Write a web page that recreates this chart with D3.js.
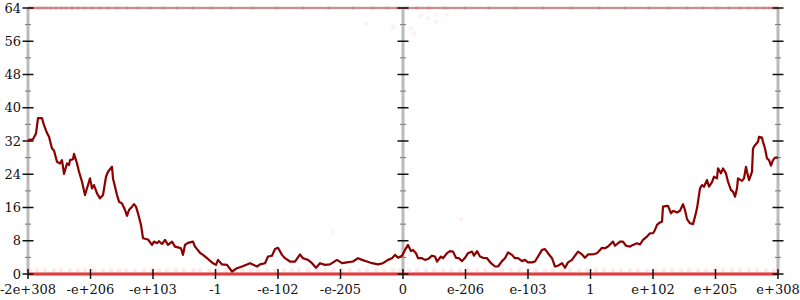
<!DOCTYPE html>
<html>
<head>
<meta charset="utf-8">
<script src="https://cdn.jsdelivr.net/npm/d3@7"></script>
<style>
  body { margin: 0; background: #fff; }
  text { font-family: "DejaVu Serif", serif; font-size: 13px; fill: #111; }
</style>
</head>
<body>
<div id="chart"></div>
<script>
// x values are positions along the ordered-float axis, 62.5 units per labelled tick
var tickLabels = ["-2e+308", "-e+206", "-e+103", "-1", "-e-102", "-e-205", "0",
                  "e-206", "e-103", "1", "e+102", "e+205", "e+308"];
var yTicks = [0, 8, 16, 24, 32, 40, 48, 56, 64];
var yMinor = [4, 12, 20, 28, 36, 44, 52, 60];

var lineX = [-375,-370,-367,-365,-361,-359,-356,-354,-351,-349,-346,-343,-341,-339,-336,-334,-333,-330,-329,-326,
  -324,-321,-318,-315,-313,-311,-309,-306,-303,-300,-297,-295,-291,-290,-286,-284,-281,-278,-276,-274,
  -271,-269,-267,-265,-262,-260,-255,-251,-249,-246,-244,-241,-238,-235,-231,-228,-225,-222,-220,-218,
  -215,-210,-208,-203,-200,-196,-192,-190,-187,-185,-181,-176,-171,-166,-161,-156,-153,-146,-143,-138,
  -135,-131,-128,-125,-121,-118,-113,-108,-103,-100,-95,-91,-87,-83,-78,-73,-66,-61,-56,-50,
  -45,-41,-36,-31,-25,-20,-15,-11,-8,-5,-1,2,5,8,10,13,15,19,22,25,
  29,32,34,38,40,44,47,50,53,56,59,62,65,69,71,74,77,80,84,88,
  92,95,99,102,105,109,112,115,119,122,125,129,132,135,139,142,145,149,152,155,
  159,162,165,169,172,175,179,182,185,189,194,199,202,205,210,212,217,220,223,227,
  230,234,237,240,244,247,250,252,254,257,259,260,264,265,268,270,274,277,280,282,
  284,287,290,292,294,297,299,301,304,306,309,311,314,315,318,320,323,325,328,330,
  332,334,335,339,341,343,344,346,349,350,352,355,356,359,360,362,364,366,368,370,
  372,375];
var lineY = [32.2,32.4,33.8,37.5,37.5,35.8,33.9,33.0,30.2,29.7,27.0,26.6,27.4,24.1,26.6,26.2,27.4,27.6,28.9,26.6,
  24.6,22.2,19.0,21.4,23.0,20.6,21.4,19.4,18.2,19.0,23.4,24.6,25.8,23.0,19.0,17.4,17.0,15.4,14.0,15.4,
  16.2,16.8,16.2,14.6,11.8,8.6,8.3,7.0,7.8,7.4,7.9,7.2,8.2,7.0,7.8,6.6,6.4,6.2,4.6,7.0,
  7.5,7.8,6.6,5.1,4.6,3.8,3.0,2.6,2.2,3.4,2.3,2.2,0.6,1.4,1.8,2.3,2.6,1.8,2.3,2.6,
  4.2,4.4,6.0,6.3,4.6,3.8,3.0,3.0,4.7,3.8,3.4,2.6,1.5,2.6,2.2,2.3,3.4,2.6,2.8,3.0,
  3.8,3.4,3.0,2.6,2.3,2.6,3.4,3.8,4.6,3.9,4.4,5.8,7.0,5.5,5.8,5.0,3.8,3.8,3.4,3.6,
  4.4,4.2,3.0,4.2,3.8,5.0,5.5,5.4,3.9,3.8,3.1,3.9,5.0,5.4,4.4,5.5,4.2,3.9,3.8,2.6,
  1.8,1.8,3.1,3.8,5.2,4.6,3.8,3.8,3.1,3.4,2.8,2.8,3.0,4.2,5.8,6.0,5.0,3.8,1.8,2.0,
  2.6,1.5,2.8,3.4,4.4,5.4,4.7,3.9,4.7,4.7,5.0,6.3,6.2,6.6,7.8,6.8,7.8,7.8,6.8,6.6,
  7.0,7.4,7.1,8.2,9.0,9.8,9.8,10.6,11.8,12.4,12.6,16.2,16.4,16.4,14.6,15.2,14.8,15.2,16.8,15.4,
  13.2,12.2,12.0,13.8,15.8,20.6,21.4,21.0,22.6,21.0,22.1,23.4,23.0,25.4,24.2,25.4,24.2,22.2,20.2,19.8,
  18.6,20.6,23.0,22.4,23.0,25.8,24.6,22.6,24.6,30.2,31.0,31.8,33.0,32.8,31.8,30.2,27.8,27.4,26.1,27.4,
  28.0,28.0];

// samples that landed on the extremes
var topX = [-374,-371,-368,-364,-360,-356,-352,-347,-342,-337,-331,-325,-318,-311,-303,-295,-286,-276,-265,-253,
  -240,-226,-210,-192,-172,-150,-126,-100,-74,-50,-30,-16,-6,4,14,26,42,62,86,112,
  140,168,196,222,246,266,284,300,314,326,337,346,354,361,366,370,373,375];
var lowX = [-373,-366,-358,-349,-342,-333,-325,-318,-309,-300,-292,-284,-277,-268,-259,-251,-244,-236,-227,-219,
  -210,-203,-194,-186,-177,-170,-161,-152,-145,-136,-128,-119,-111,-104,-95,-86,-78,-70,-61,-53,
  -44,-36,-27,-19,-10,-3,6,14,23,31,40,48,57,65,74,82,91,99,108,116,
  125,133,142,150,159,167,176,184,193,201,210,218,227,235,244,252,261,269,278,286,
  295,303,312,320,329,337,346,354,363,371];
var lowY = 0.9;
var zeroRun = [-375, 375];
var strayX = [-36, -10, 8, 11, 18, 25, 33, 33, 44, -70, 58];
var strayY = [60.2, 59.5, 59.1, 57.9, 62.1, 61.5, 62.3, 60.7, 62.3, 10.1, 13.2];

var margin = {top: 8, right: 22, bottom: 26, left: 28},
    width = 800 - margin.left - margin.right,
    height = 300 - margin.top - margin.bottom;

var svg = d3.select("#chart")
  .append("svg")
    .attr("width", 800)
    .attr("height", 300)
  .append("g")
    .attr("transform", "translate(" + margin.left + "," + margin.top + ")");

var x = d3.scaleLinear().domain([-375, 375]).range([0, width]);
var y = d3.scaleLinear().domain([0, 64]).range([height, 0]);

var tickPos = tickLabels.map(function(d, i) { return (i - 6) * 62.5; });

// frame and axis lines
svg.append("line")
    .attr("x1", 0).attr("x2", width).attr("y1", 0).attr("y2", 0)
    .attr("stroke", "#bbb").attr("stroke-width", 2.5);
svg.append("line")
    .attr("x1", 0).attr("x2", width).attr("y1", height).attr("y2", height)
    .attr("stroke", "#bbb").attr("stroke-width", 2.5);
[-375, 0, 375].forEach(function(p) {
  svg.append("line")
      .attr("x1", x(p)).attr("x2", x(p)).attr("y1", 0).attr("y2", height)
      .attr("stroke", "#bbb").attr("stroke-width", 3);
});

// scatter samples
svg.append("line")
    .attr("x1", x(zeroRun[0])).attr("x2", x(zeroRun[1]))
    .attr("y1", y(64)).attr("y2", y(64))
    .attr("stroke", "#e64646").attr("stroke-width", 2).attr("stroke-opacity", 0.35);

svg.append("g").selectAll("circle.top")
  .data(topX).enter().append("circle")
    .attr("cx", function(d) { return x(d); })
    .attr("cy", y(64))
    .attr("r", 2)
    .attr("fill", "#e8282a")
    .attr("fill-opacity", 0.15);

svg.append("g").selectAll("circle.low")
  .data(lowX).enter().append("circle")
    .attr("cx", function(d) { return x(d); })
    .attr("cy", y(lowY))
    .attr("r", 2.2)
    .attr("fill", "#f04a4a")
    .attr("fill-opacity", 0.12);

svg.append("g").selectAll("circle.stray")
  .data(strayX).enter().append("circle")
    .attr("cx", function(d) { return x(d); })
    .attr("cy", function(d, i) { return y(strayY[i]); })
    .attr("r", 2.2)
    .attr("fill", "#f04a4a")
    .attr("fill-opacity", 0.08);

svg.append("line")
    .attr("x1", x(zeroRun[0])).attr("x2", x(zeroRun[1]))
    .attr("y1", y(0)).attr("y2", y(0))
    .attr("stroke", "#e43a3c").attr("stroke-width", 3);

// y ticks on the three vertical axes
[-375, 0, 375].forEach(function(p) {
  var g = svg.append("g");
  g.selectAll("line.minor").data(yMinor).enter().append("line")
      .attr("x1", x(p) - 3).attr("x2", x(p) + 3)
      .attr("y1", function(d) { return y(d); }).attr("y2", function(d) { return y(d); })
      .attr("stroke", "#777").attr("stroke-width", 1);
  g.selectAll("line.major").data(yTicks).enter().append("line")
      .attr("x1", x(p) - 5.5).attr("x2", x(p) + 5.5)
      .attr("y1", function(d) { return y(d); }).attr("y2", function(d) { return y(d); })
      .attr("stroke", "#111").attr("stroke-width", 1.5);
});

svg.append("g").selectAll("text").data(yTicks).enter().append("text")
    .attr("x", -7)
    .attr("y", function(d) { return y(d); })
    .attr("dy", "0.35em")
    .attr("text-anchor", "end")
    .text(function(d) { return d; });

// x ticks
svg.append("g").selectAll("line").data(tickPos).enter().append("line")
    .attr("x1", function(d) { return x(d); }).attr("x2", function(d) { return x(d); })
    .attr("y1", height - 5).attr("y2", height + 5)
    .attr("stroke", "#111").attr("stroke-width", 1.5);

svg.append("g").selectAll("text").data(tickPos).enter().append("text")
    .attr("x", function(d) { return x(d); })
    .attr("y", height + 20)
    .attr("text-anchor", "middle")
    .text(function(d, i) { return tickLabels[i]; });

// the curve
var line = d3.line()
    .x(function(d) { return x(d); })
    .y(function(d, i) { return y(lineY[i]); });

svg.append("path")
    .datum(lineX)
    .attr("fill", "none")
    .attr("stroke", "#8b0000")
    .attr("stroke-width", 2.2)
    .attr("stroke-linejoin", "round")
    .attr("d", line);
</script>
</body>
</html>
